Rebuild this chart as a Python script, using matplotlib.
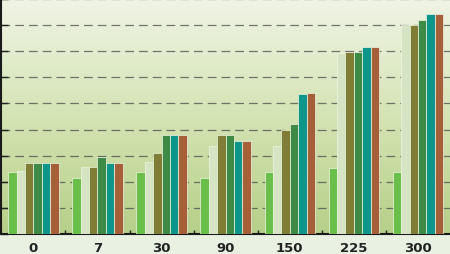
import matplotlib.pyplot as plt
import numpy as np
from matplotlib.colors import LinearSegmentedColormap

categories = ["0", "7", "30", "90", "150", "225", "300"]
s_light = [23.7, 21.5, 23.7, 21.5, 23.7, 25.2, 23.7]
s_pale = [24.0, 25.7, 27.6, 33.9, 33.9, 69.5, 80.1]
s_olive = [27.3, 25.6, 31.2, 37.9, 40.0, 69.9, 80.1]
s_dgreen = [27.3, 29.6, 37.9, 37.9, 42.1, 69.9, 81.8]
s_teal = [27.3, 27.3, 37.9, 35.7, 53.5, 71.8, 84.1]
s_brown = [27.3, 27.3, 37.9, 35.7, 53.9, 71.8, 84.1]

series = [s_light, s_pale, s_olive, s_dgreen, s_teal, s_brown]
colors = ["#6abf4b", "#d5e4c3", "#7f7d36", "#3d8b46", "#0f968b", "#a5603a"]

fig = plt.figure(figsize=(4.5, 2.55), dpi=100, facecolor="#e9f1e3")
ax = fig.add_axes([0.003, 0.078, 0.997, 0.922])

x = np.arange(len(categories))
w = 0.131
ax.set_xlim(-0.5, len(categories) - 0.5)
ax.set_ylim(0, 90)

# background gradient
grad = LinearSegmentedColormap.from_list("bg", ["#b6cf88", "#d4e4b4", "#f0f4e6"])
ax.imshow(np.linspace(0, 1, 256).reshape(-1, 1), cmap=grad, origin="lower",
          extent=[-0.5, len(categories) - 0.5, 0, 90], aspect="auto", zorder=0)

for i, (vals, c) in enumerate(zip(series, colors)):
    ax.bar(x + (i - 2.5) * w, vals, w, color=c, edgecolor="#eef5e2",
           linewidth=0.5, zorder=3)

ax.set_yticks(np.arange(0, 91, 10))
ax.yaxis.grid(True, color="#4a4a4a", alpha=0.75, linewidth=0.9,
              linestyle=(0, (7, 4)), zorder=1)
ax.set_yticklabels([])
ax.tick_params(axis="y", direction="in", length=5, width=1, color="#222222")

ax.set_xticks(x)
ax.set_xticklabels(categories, fontsize=9.5, fontweight="bold", color="#222222")
ax.tick_params(axis="x", which="major", length=0, pad=5)
ax.set_xticks(np.arange(0.5, len(categories) - 0.5, 1), minor=True)
ax.tick_params(axis="x", which="minor", direction="in", length=3, width=1,
               color="#222222")

for side in ["top", "right"]:
    ax.spines[side].set_visible(False)
ax.spines["left"].set_linewidth(1.5)
ax.spines["bottom"].set_linewidth(1.5)
ax.spines["left"].set_color("#1a1a1a")
ax.spines["bottom"].set_color("#1a1a1a")

fig.savefig("out.png", dpi=100, facecolor=fig.get_facecolor())
